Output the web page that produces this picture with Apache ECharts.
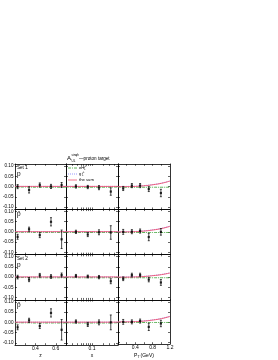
<!DOCTYPE html>
<html><head><meta charset="utf-8">
<script src="https://cdn.jsdelivr.net/npm/echarts@6/dist/echarts.min.js"></script>
<style>html,body{margin:0;padding:0;background:#fff}#c{width:278px;height:360px}</style>
</head><body><div id="c"></div>
<script>
// ---- bins ----
const zBins = [0.226, 0.338, 0.443, 0.553, 0.657];
const xBins = [0.037, 0.077, 0.154, 0.32];
const ptBins = [0.12, 0.32, 0.51, 0.71, 0.99];

// ---- measured points (value, error) ----
// row 1: Set 1, p
const r1z = [0.000, -0.016, 0.008, 0.001, 0.008];
const r1zErr = [0.010, 0.015, 0.010, 0.010, 0.012];
const r1x = [0.001, -0.002, -0.005, -0.024];
const r1xErr = [0.008, 0.008, 0.010, 0.018];
const r1pt = [-0.009, 0.005, 0.005, -0.012, -0.031];
const r1ptErr = [0.010, 0.010, 0.010, 0.012, 0.018];
// row 2: Set 1, pbar
const r2z = [-0.024, 0.013, -0.016, 0.049, -0.036];
const r2zErr = [0.012, 0.010, 0.012, 0.020, 0.045];
const r2x = [0.000, -0.013, -0.002, -0.003];
const r2xErr = [0.008, 0.010, 0.012, 0.033];
const r2pt = [0.000, 0.001, 0.004, -0.025, 0.000];
const r2ptErr = [0.012, 0.010, 0.010, 0.018, 0.016];
// row 3: Set 2, p
const r3z = [0.000, -0.012, 0.009, 0.003, 0.010];
const r3zErr = [0.009, 0.010, 0.009, 0.009, 0.010];
const r3x = [0.006, 0.003, 0.000, -0.020];
const r3xErr = [0.007, 0.007, 0.008, 0.012];
const r3pt = [-0.008, 0.010, 0.010, -0.012, -0.026];
const r3ptErr = [0.009, 0.009, 0.009, 0.011, 0.014];
// row 4: Set 2, pbar
const r4z = [-0.024, 0.010, -0.018, 0.046, -0.036];
const r4zErr = [0.012, 0.010, 0.012, 0.020, 0.050];
const r4x = [0.004, -0.010, 0.000, 0.000];
const r4xErr = [0.008, 0.010, 0.012, 0.036];
const r4pt = [0.000, 0.000, 0.004, -0.025, -0.008];
const r4ptErr = [0.012, 0.010, 0.010, 0.018, 0.016];

// ---- model curves ----
const zCurveX = [0.2, 0.3, 0.4, 0.5, 0.6, 0.7];
const xCurveX = [0.02, 0.05, 0.1, 0.2, 0.5];
const ptCurveX = [0.0, 0.2, 0.4, 0.6, 0.8, 1.0, 1.2];
const eH_z = [-0.002, -0.002, -0.003, -0.003, -0.003, -0.003];
const g_z = [0.001, 0.001, 0.001, 0.001, 0.001, 0.001];
const sum_z = [0.001, 0.001, 0.001, 0.001, 0.001, 0.001];
const eH_x = [-0.002, -0.003, -0.003, -0.003, -0.002];
const g_x = [0.001, 0.001, 0.001, 0.001, 0.001];
const sum_x = [0.001, 0.001, 0.001, 0.001, 0.001];
const eH_pt = [-0.002, -0.003, -0.003, -0.003, -0.003, -0.003, -0.003];
const g_pt_a = [0.000, 0.001, 0.002, 0.005, 0.010, 0.017, 0.028];
const sum_pt_a = [0.000, 0.000, 0.001, 0.004, 0.009, 0.016, 0.027];
const g_pt_b = [0.000, 0.001, 0.002, 0.004, 0.008, 0.013, 0.021];
const sum_pt_b = [0.000, 0.000, 0.001, 0.003, 0.007, 0.012, 0.020];

const yTicks = [-0.10, -0.05, 0.00, 0.05, 0.10];

const rows = [
  {z: [r1z, r1zErr], x: [r1x, r1xErr], pt: [r1pt, r1ptErr], g: g_pt_a, s: sum_pt_a},
  {z: [r2z, r2zErr], x: [r2x, r2xErr], pt: [r2pt, r2ptErr], g: g_pt_a, s: sum_pt_a},
  {z: [r3z, r3zErr], x: [r3x, r3xErr], pt: [r3pt, r3ptErr], g: g_pt_b, s: sum_pt_b},
  {z: [r4z, r4zErr], x: [r4x, r4xErr], pt: [r4pt, r4ptErr], g: g_pt_a, s: sum_pt_a}
];

const F = '"Liberation Sans", Arial, sans-serif';
const colLeft = [14, 66, 118], colW = 52;
const rowTop = [164, 209.25, 254.5, 299.75], rowH = 45.25;
const GREEN = '#33a02c', BLUE = '#8080ff', RED = '#f0506e';
const DASH_E = [3, 1, 1, 1], DASH_G = [1, 1];

const grids = [], xAxes = [], yAxes = [], series = [];

const colDefs = [
  {type: 'value', min: 0.2, max: 0.7, labels: [0.4, 0.6], ticks: [0.3, 0.4, 0.5, 0.6],
   name: 'z', fmt: v => v.toFixed(1)},
  {type: 'log', min: 0.02, max: 0.5, labels: [0.1],
   ticks: [0.03, 0.04, 0.05, 0.06, 0.07, 0.08, 0.09, 0.1, 0.2, 0.3, 0.4],
   name: 'x', fmt: v => String(v)},
  {type: 'value', min: 0, max: 1.2, labels: [0.4, 0.8, 1.2], ticks: [0.2, 0.4, 0.6, 0.8, 1.0],
   name: '{i|P}{sub|T}{i|(GeV)}', fmt: v => v.toFixed(1)}
];

function errRender(params, api) {
  const x = api.value(0), y = api.value(1), e = api.value(2);
  const lo = api.coord([x, y - e]), hi = api.coord([x, y + e]);
  const cw = 1.0, st = {stroke: '#000', lineWidth: 0.7};
  return {type: 'group', children: [
    {type: 'line', shape: {x1: lo[0], y1: lo[1], x2: hi[0], y2: hi[1]}, style: st},
    {type: 'line', shape: {x1: lo[0] - cw, y1: lo[1], x2: lo[0] + cw, y2: lo[1]}, style: st},
    {type: 'line', shape: {x1: hi[0] - cw, y1: hi[1], x2: hi[0] + cw, y2: hi[1]}, style: st}
  ]};
}

const lineStyleBase = {color: '#000', width: 0.8};

rows.forEach((row, r) => {
  for (let c = 0; c < 3; c++) {
    const gi = grids.length;
    grids.push({left: colLeft[c], top: rowTop[r], width: colW, height: rowH, containLabel: false});
    const d = colDefs[c];
    const bottomRow = r === 3;
    const common = {gridIndex: gi, type: d.type, min: d.min, max: d.max,
      axisLine: {show: true, onZero: false, lineStyle: lineStyleBase},
      splitLine: {show: false}, minorTick: {show: false}};
    if (d.type === 'log') common.logBase = 10;
    xAxes.push(Object.assign({}, common, {
      position: 'bottom',
      axisTick: {show: true, inside: true, length: 1.8, customValues: d.ticks, lineStyle: {color: '#000', width: 0.6}},
      axisLabel: {show: bottomRow, customValues: d.labels, formatter: d.fmt, fontSize: 5,
        fontFamily: F, color: '#000', margin: 1.5},
      name: bottomRow ? d.name : '', nameLocation: 'middle', nameGap: 8,
      nameTextStyle: {fontSize: 5, fontFamily: F, color: '#000',
        rich: {i: {fontSize: 5, fontFamily: F}, sub: {fontSize: 3.5, fontFamily: F, verticalAlign: 'bottom', padding: [3, 1, 0, 0]}}}
    }));
    xAxes.push(Object.assign({}, common, {
      position: 'top',
      axisTick: {show: true, inside: true, length: 1.8, customValues: d.ticks, lineStyle: {color: '#000', width: 0.6}},
      axisLabel: {show: false}
    }));
    const yCommon = {gridIndex: gi, type: 'value', min: -0.11, max: 0.11,
      axisLine: {show: true, onZero: false, lineStyle: lineStyleBase}, splitLine: {show: false},
      axisTick: {show: true, inside: true, length: 2, customValues: yTicks, lineStyle: {color: '#000', width: 0.6}}};
    yAxes.push(Object.assign({}, yCommon, {
      position: 'left',
      axisLabel: {show: c === 0, customValues: yTicks, formatter: v => v.toFixed(2),
        fontSize: 4.6, fontFamily: F, color: '#000', margin: 1.5}
    }));
    yAxes.push(Object.assign({}, yCommon, {position: 'right', axisLabel: {show: false}}));
    const xi = 2 * gi, yi = 2 * gi;

    const bins = [zBins, xBins, ptBins][c];
    const pv = [row.z, row.x, row.pt][c];
    const cx = [zCurveX, xCurveX, ptCurveX][c];
    const ce = [eH_z, eH_x, eH_pt][c];
    const cg = [g_z, g_x, row.g][c];
    const cs = [sum_z, sum_x, row.s][c];
    const mk = (xs, ys) => xs.map((v, i) => [v, ys[i]]);

    series.push({type: 'line', xAxisIndex: xi, yAxisIndex: yi, data: mk(cx, ce),
      smooth: true, showSymbol: false, symbol: 'none', clip: true, silent: true,
      lineStyle: {color: GREEN, width: 0.8, type: DASH_E}, z: 2});
    series.push({type: 'line', xAxisIndex: xi, yAxisIndex: yi, data: mk(cx, cg),
      smooth: true, showSymbol: false, symbol: 'none', clip: true, silent: true,
      lineStyle: {color: BLUE, width: 0.8, type: DASH_G}, z: 2});
    series.push({type: 'line', xAxisIndex: xi, yAxisIndex: yi, data: mk(cx, cs),
      smooth: true, showSymbol: false, symbol: 'none', clip: true, silent: true,
      lineStyle: {color: RED, width: 0.9}, z: 3});
    series.push({type: 'custom', xAxisIndex: xi, yAxisIndex: yi, renderItem: errRender,
      encode: {x: 0, y: 1}, data: bins.map((b, i) => [b, pv[0][i], pv[1][i]]), z: 4, silent: true});
    series.push({type: 'scatter', xAxisIndex: xi, yAxisIndex: yi, symbol: 'rect', symbolSize: 2.2,
      itemStyle: {color: '#000'}, data: bins.map((b, i) => [b, pv[0][i]]), z: 5, silent: true});
  }
});

const txt = (x, y, s, size) => ({type: 'text', left: x, top: y,
  style: {text: s, fontSize: size, fontFamily: F, fill: '#000'}});
const legLine = (y, color, dash) => ({type: 'line', shape: {x1: 68, y1: y, x2: 77, y2: y},
  style: {stroke: color, lineWidth: 0.8, lineDash: dash}});

const option = {
  animation: false,
  backgroundColor: '#fff',
  grid: grids, xAxis: xAxes, yAxis: yAxes, series: series,
  graphic: [
    txt(67, 155.5, 'A', 6),
    txt(71.5, 154, 'sinφh', 3),
    txt(71.5, 159.5, 'UL', 3),
    txt(79, 156.5, '—proton target', 4.6),
    txt(17, 165.5, 'Set 1', 4.6),
    txt(17, 171, 'p', 6.5),
    txt(17, 211, 'p̄', 6.5),
    txt(17, 256.5, 'Set 2', 4.6),
    txt(17, 262, 'p', 6.5),
    txt(17, 301.5, 'p̄', 6.5),
    legLine(168, GREEN, DASH_E),
    legLine(174, BLUE, DASH_G),
    legLine(180, RED, null),
    txt(79, 165.5, 'eH', 4.2), txt(84, 164.5, '⊥', 2.8), txt(84, 167.5, '1', 2.8),
    txt(79, 171.5, 'g', 4.2), txt(82, 170.5, '⊥', 2.8), txt(82, 173.5, '1', 2.8),
    txt(79, 178, 'the sum', 4.2)
  ]
};

const chart = echarts.init(document.getElementById('c'), null, {renderer: 'canvas'});
chart.setOption(option);
</script></body></html>
